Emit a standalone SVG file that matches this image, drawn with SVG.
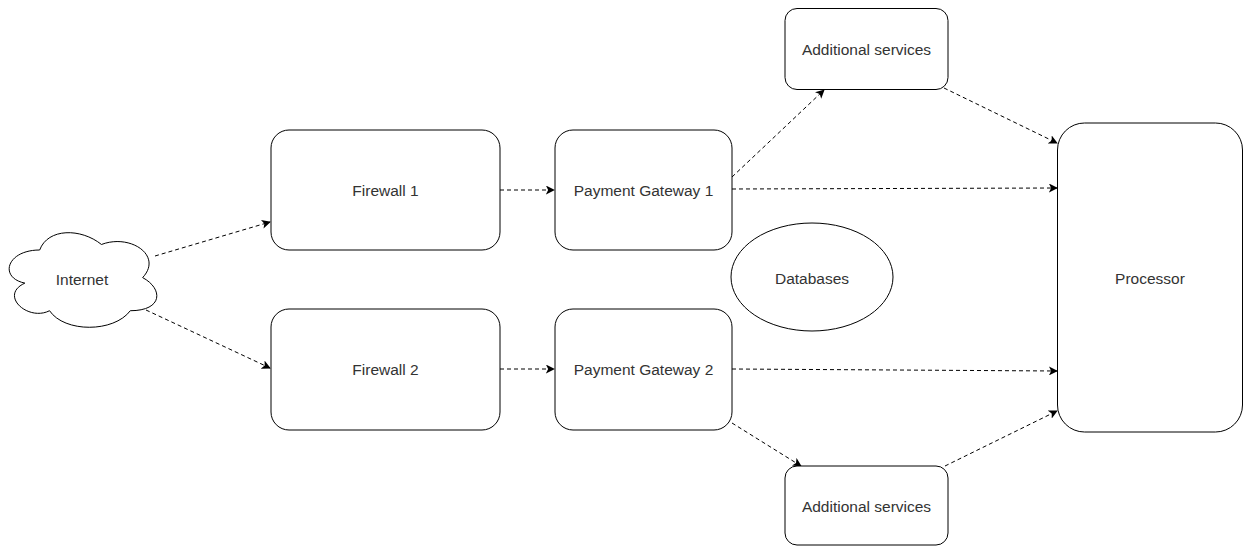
<svg xmlns="http://www.w3.org/2000/svg" width="1245" height="546" viewBox="0 0 1245 546">
<defs>
<marker id="arr" viewBox="0 0 10 10" refX="9" refY="5" markerWidth="9" markerHeight="9" markerUnits="userSpaceOnUse" orient="auto">
<path d="M0,0 L10,5 L0,10 L2.5,5 Z" fill="#000"/>
</marker>
</defs>
<style>
.n{fill:#fff;stroke:#000;stroke-width:1}
.t{font-family:"Liberation Sans",Arial,sans-serif;font-size:15.5px;fill:#333;text-anchor:middle;dominant-baseline:central}
.c{fill:none;stroke:#000;stroke-width:1;stroke-dasharray:4 3;marker-end:url(#arr)}
</style>
<rect width="1245" height="546" fill="#fff"/>
<g id="connectors">
<path class="c" d="M155,256 L270,222"/>
<path class="c" d="M146,310 L270,368"/>
<path class="c" d="M500,190 L554,190"/>
<path class="c" d="M500,369 L554,369"/>
<path class="c" d="M732,177 L824,90"/>
<path class="c" d="M732,189 L1057,188"/>
<path class="c" d="M944,88 L1057,143"/>
<path class="c" d="M732,369 L1057,371"/>
<path class="c" d="M732,423 L801,466"/>
<path class="c" d="M945,466 L1057,411"/>
</g>
<g id="internet">
<path class="n" vector-effect="non-scaling-stroke" transform="translate(83,280) scale(1.07,1.2) translate(-85,-283)" d="M44.5,258 C13.7,258 6,281 30.64,285.6 C6,295.72 33.72,317.8 53.74,308.6 C67.6,327 113.8,327 129.2,308.6 C160,308.6 160,290.2 140.75,281 C160,262.6 129.2,244.2 102.25,253.4 C83,239.6 52.2,239.6 44.5,258 Z"/>
<text class="t" x="82" y="279">Internet</text>
</g>
<g id="firewall1">
<rect class="n" x="271" y="130" width="229" height="120" rx="18" ry="18"/>
<text class="t" x="385.5" y="190">Firewall 1</text>
</g>
<g id="firewall2">
<rect class="n" x="271" y="309" width="229" height="121" rx="18" ry="18"/>
<text class="t" x="385.5" y="369">Firewall 2</text>
</g>
<g id="pg1">
<rect class="n" x="555" y="130" width="177" height="120" rx="18" ry="18"/>
<text class="t" x="643.5" y="190">Payment Gateway 1</text>
</g>
<g id="pg2">
<rect class="n" x="555" y="309" width="177" height="121" rx="18" ry="18"/>
<text class="t" x="643.5" y="369">Payment Gateway 2</text>
</g>
<g id="add1">
<rect class="n" x="785" y="8.5" width="163" height="81" rx="12" ry="12"/>
<text class="t" x="866.5" y="49">Additional services</text>
</g>
<g id="add2">
<rect class="n" x="785" y="466" width="163" height="79" rx="12" ry="12"/>
<text class="t" x="866.5" y="506">Additional services</text>
</g>
<g id="databases">
<ellipse class="n" cx="812" cy="277" rx="81" ry="54"/>
<text class="t" x="812" y="278">Databases</text>
</g>
<g id="processor">
<rect class="n" x="1057.5" y="123" width="185" height="309" rx="27" ry="27"/>
<text class="t" x="1150" y="278">Processor</text>
</g>
</svg>
